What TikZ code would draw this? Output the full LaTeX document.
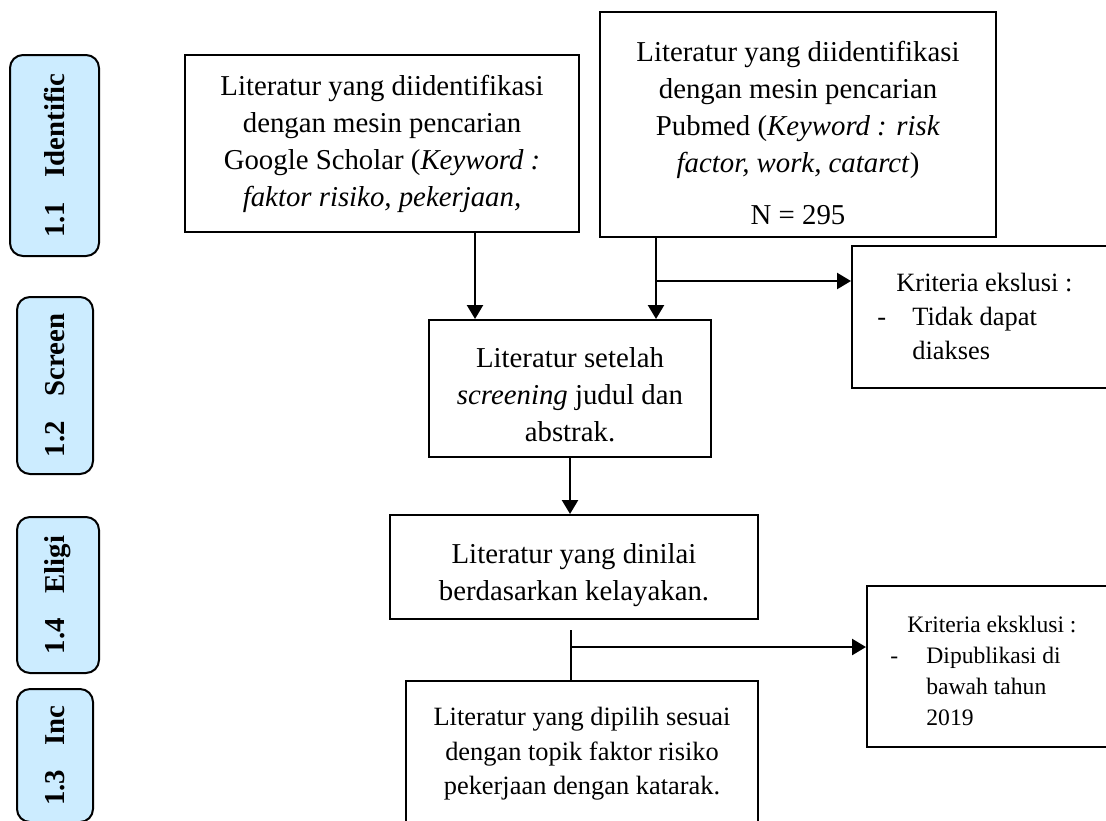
\documentclass[tikz,border=0pt]{standalone}
\usepackage{fontspec}
\setmainfont{Liberation Serif}
\usetikzlibrary{positioning,arrows.meta,calc}
\definecolor{phaseblue}{HTML}{CCECFF}
\definecolor{inkc}{HTML}{000000}

\begin{document}
\begin{tikzpicture}[x=0.5pt, y=-0.5pt,
    phase/.style={draw=inkc, line width=1pt, rounded corners=6.5pt, fill=phaseblue, rotate=90, inner sep=0pt, font=\fontsize{14.4}{17}\selectfont\bfseries},
    box/.style={draw=inkc, line width=1pt, inner sep=0pt},
    txt/.style={align=center, inner sep=0pt, text=inkc, font=\fontsize{14.4}{18.5}\selectfont},
    stxt/.style={txt, font=\fontsize{13.2}{17.2}\selectfont},
    note/.style={align=left, anchor=west, inner sep=0pt, text=inkc, font=\fontsize{13.2}{16.8}\selectfont},
    snote/.style={note, font=\fontsize{11.8}{15.4}\selectfont},
    msg/.style={-{Triangle[length=7pt,width=8pt]}, line width=1.2pt, draw=inkc},
    link/.style={line width=1.2pt, draw=inkc}]
  \useasboundingbox (0,0) rectangle (1106,820);
  \foreach \x/\y/\len/\wid/\name/\lab in {54.5/155.5/100.5/44.5/ph1/1.1\hspace{0.85em}Identific, 55/385.5/88.5/38/ph2/1.2\hspace{0.85em}Screen, 58/595/78/41/ph4/1.4\hspace{0.85em}Eligi, 55/755.5/66.5/38/ph3/1.3\hspace{0.85em}Inc}{
    \node[phase, minimum width=\len pt, minimum height=\wid pt] (\name) at (\x,\y) {\lab};
  }
  \node[box, minimum width=197pt, minimum height=88.5pt] (G) at (382,143.5) {};
  \node[txt] (Gt) at (382,144) {Literatur yang diidentifikasi\\ dengan mesin pencarian\\ Google Scholar (\textit{Keyword :}\\ \textit{faktor risiko, pekerjaan,}};
  \node[box, minimum width=198pt, minimum height=112.5pt] (P) at (798,124.5) {};
  \node[txt] (Pt) at (798,133) {Literatur yang diidentifikasi\\ dengan mesin pencarian\\ Pubmed (\textit{Keyword : risk}\\ \textit{factor, work, catarct})\\[7.5pt] N = 295};
  \node[box, minimum width=141pt, minimum height=68.5pt] (S) at (570,388.5) {};
  \node[txt] (St) at (570,395) {Literatur setelah\\ \textit{screening} judul dan\\ abstrak.};
  \node[box, minimum width=184pt, minimum height=52pt] (E) at (574,567) {};
  \node[txt] (Et) at (574,575) {Literatur yang dinilai\\ berdasarkan kelayakan.};
  \node[box, minimum width=176pt, minimum height=79.5pt] (I) at (582,760.5) {};
  \node[stxt] (It) at (582,754) {Literatur yang dipilih sesuai\\ dengan topik faktor risiko\\ pekerjaan dengan katarak.};
  \node[box, minimum width=130pt, minimum height=71pt] (X1) at (982,317) {};
  \node[note] (X1t) at (877,316.5) {\hspace*{9.5pt}Kriteria ekslusi :\\ \makebox[17.5pt][l]{-}Tidak dapat\\ \hspace*{17.5pt}diakses};
  \node[box, minimum width=122.5pt, minimum height=80.5pt] (X2) at (989.5,666.5) {};
  \node[snote] (X2t) at (890,671) {\hspace*{8.5pt}Kriteria eksklusi :\\ \makebox[18pt][l]{-}Dipublikasi di\\ \hspace*{18pt}bawah tahun\\ \hspace*{18pt}2019};
  \draw[msg] ([xshift=46.5pt]G.south) -- ([xshift=46.5pt]G.south |- S.north);
  \draw[msg] ([xshift=-71pt]P.south) -- ([xshift=-71pt]P.south |- S.north);
  \coordinate (b1) at (656,281);
  \draw[msg] (b1) -- (b1 -| X1.west);
  \draw[msg] (S.south) -- (S.south |- E.north);
  \coordinate (c1) at (571,630);
  \draw[link] (c1) -- (c1 |- I.north);
  \coordinate (c2) at (571,647);
  \draw[msg] (c2) -- (c2 -| X2.west);
\end{tikzpicture}
\end{document}
